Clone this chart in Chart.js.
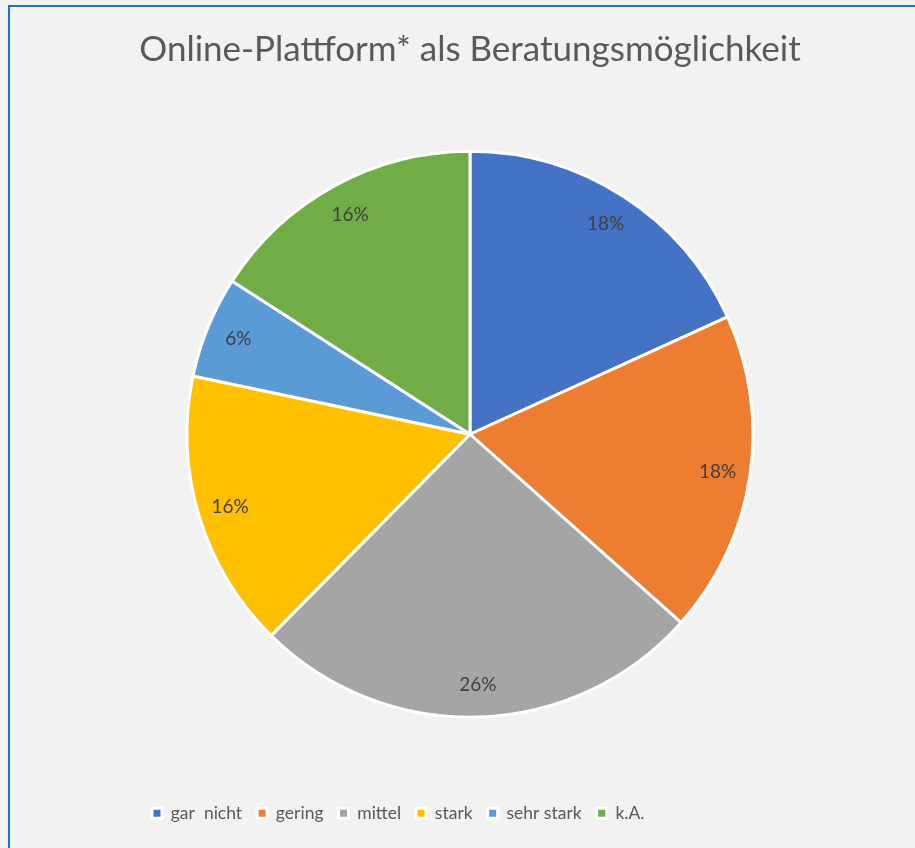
<!DOCTYPE html>
<html>
<head>
<meta charset="utf-8">
<script src="https://cdn.jsdelivr.net/npm/chart.js@4.4.1/dist/chart.umd.min.js"></script>
<style>
    html, body { margin: 0; padding: 0; background: #f2f2f2; }
    #wrap { position: relative; width: 915px; height: 848px; overflow: hidden; }
    #frame {
        position: absolute; left: 8px; top: 5px; width: 1000px; height: 1000px;
        border-left: 2px solid #1f6fd6; border-top: 2px solid #1f6fd6;
    }
    canvas { position: absolute; left: 0; top: 0; }
</style>
</head>
<body>
<div id="wrap">
    <div id="frame"></div>
    <canvas id="pieChart" width="915" height="848"></canvas>
</div>
<script>
// ---- data ----
const categories = ['gar  nicht', 'gering', 'mittel', 'stark', 'sehr stark', 'k.A.'];
const shares = [18.2, 18.4, 25.8, 15.9, 5.8, 15.9];
const sliceColors = ['#4472c4', '#ed7d31', '#a5a5a5', '#ffc000', '#5b9bd5', '#70ad47'];

const FONT = 'Lato, "Open Sans", sans-serif';

// percent labels inside the slices
const sliceLabels = {
    id: 'sliceLabels',
    afterDatasetsDraw(chart) {
        const ctx = chart.ctx;
        const meta = chart.getDatasetMeta(0);
        const total = shares.reduce((a, b) => a + b, 0);
        ctx.save();
        ctx.font = '19px ' + FONT;
        ctx.fillStyle = '#404040';
        ctx.textAlign = 'center';
        ctx.textBaseline = 'middle';
        meta.data.forEach((arc, i) => {
            const p = arc.getProps(['x', 'y', 'startAngle', 'endAngle', 'outerRadius'], true);
            const mid = (p.startAngle + p.endAngle) / 2;
            const r = p.outerRadius * 0.885;
            const txt = Math.round(shares[i] / total * 100) + '%';
            ctx.fillText(txt, p.x + Math.cos(mid) * r, p.y + Math.sin(mid) * r);
        });
        ctx.restore();
    }
};

new Chart(document.getElementById('pieChart'), {
    type: 'pie',
    data: {
        labels: categories,
        datasets: [{
            data: shares,
            backgroundColor: sliceColors,
            borderColor: '#ffffff',
            borderWidth: 3,
            radius: 283,
        }]
    },
    options: {
        responsive: false,
        animation: false,
        layout: { padding: { left: 137, right: 112, top: 0, bottom: 16 } },
        plugins: {
            title: {
                display: true,
                text: 'Online-Plattform* als Beratungsmöglichkeit',
                color: '#595959',
                font: { family: FONT, size: 35, weight: 'normal', lineHeight: 1.2 },
                padding: { top: 29, bottom: 77 }
            },
            legend: {
                position: 'bottom',
                align: 'start',
                title: {
                    display: true,
                    text: '',
                    font: { size: 10, lineHeight: 1 },
                    padding: { top: 59, bottom: 0 }
                },
                labels: {
                    color: '#595959',
                    font: { family: FONT, size: 17.5 },
                    boxWidth: 10,
                    boxHeight: 10,
                    padding: 15
                }
            },
            tooltip: { enabled: false }
        }
    },
    plugins: [sliceLabels]
});
</script>
</body>
</html>
